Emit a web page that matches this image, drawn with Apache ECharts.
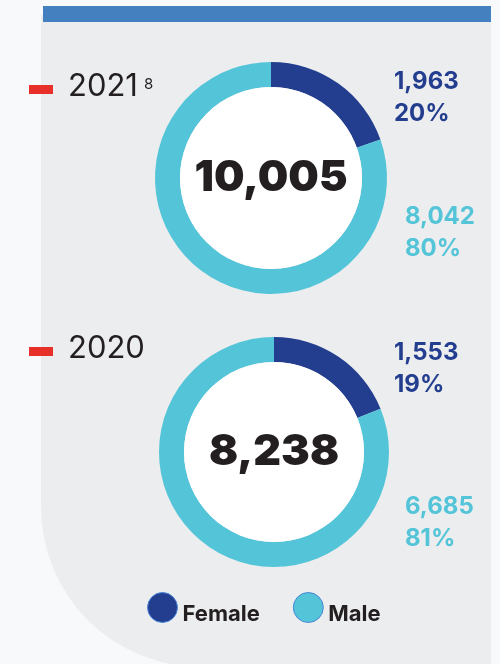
<!DOCTYPE html>
<html>
<head>
<meta charset="utf-8">
<script src="https://cdn.jsdelivr.net/npm/echarts@6/dist/echarts.min.js"></script>
<style>
  html, body { margin: 0; padding: 0; background: #f8f9fb; }
  #chart { width: 500px; height: 664px; }
</style>
</head>
<body>
<div id="chart"></div>
<script>
// data
const years = ['2021', '2020'];
const yearNotes = ['8', ''];
const female = [1963, 1553];
const male = [8042, 6685];
const femalePct = [20, 19];
const malePct = [80, 81];
const totals = [10005, 8238];

const COLORS = {
  female: '#243e8f',
  male: '#54c5d8',
  dash: '#e8302a',
  bar: '#4480c0',
  panel: '#ecedef',
  text: '#231f20'
};
const FONT = 'Inter, "Noto Sans", sans-serif';

// layout for each donut block
const blocks = [
  { cx: 271, cy: 178, r: 116, yearY: 87, fLabelY: 82, mLabelY: 217 },
  { cx: 274, cy: 452, r: 115, yearY: 349, fLabelY: 353, mLabelY: 507 }
];

const fmt = v => v.toLocaleString('en-US');

const chart = echarts.init(document.getElementById('chart'));

const series = [];
const graphic = [
  {
    type: 'rect',
    shape: { x: 41, y: 15, width: 450, height: 652, r: [0, 0, 0, 160] },
    style: { fill: COLORS.panel },
    silent: true
  },
  {
    type: 'rect',
    shape: { x: 43, y: 6, width: 448, height: 16 },
    style: { fill: COLORS.bar },
    silent: true
  }
];

blocks.forEach((b, i) => {
  series.push({
    type: 'pie',
    center: [b.cx, b.cy],
    radius: [b.r - 25, b.r],
    startAngle: 90,
    clockwise: true,
    silent: true,
    label: { show: false },
    labelLine: { show: false },
    itemStyle: { borderWidth: 0 },
    data: [
      { name: 'Female', value: female[i], itemStyle: { color: COLORS.female } },
      { name: 'Male', value: male[i], itemStyle: { color: COLORS.male } }
    ]
  });
  series.push({
    type: 'pie',
    center: [b.cx, b.cy],
    radius: [0, b.r - 25],
    silent: true,
    labelLine: { show: false },
    label: {
      show: true,
      position: 'center',
      formatter: p => fmt(p.value),
      color: COLORS.text,
      fontFamily: FONT,
      fontWeight: 900,
      fontSize: 43
    },
    data: [{ name: 'Total', value: totals[i], itemStyle: { color: '#ffffff' } }]
  });

  graphic.push(
    {
      type: 'rect',
      shape: { x: 29, y: b.yearY - 2, width: 24, height: 9 },
      style: { fill: COLORS.dash },
      silent: true
    },
    {
      type: 'text',
      x: 68, y: b.yearY,
      style: {
        text: years[i], fill: COLORS.text, font: '400 31px ' + FONT,
        textAlign: 'left', textVerticalAlign: 'middle'
      },
      silent: true
    },
    {
      type: 'text',
      x: 144, y: b.yearY - 10,
      style: {
        text: yearNotes[i], fill: COLORS.text, font: '400 15px ' + FONT,
        textAlign: 'left', textVerticalAlign: 'top'
      },
      silent: true
    },
    {
      type: 'text',
      x: 394, y: b.fLabelY - 16,
      style: {
        text: fmt(female[i]) + '\n' + femalePct[i] + '%', fill: COLORS.female,
        font: '700 24px ' + FONT, lineHeight: 32,
        textAlign: 'left', textVerticalAlign: 'top'
      },
      silent: true
    },
    {
      type: 'text',
      x: 405, y: b.mLabelY - 16,
      style: {
        text: fmt(male[i]) + '\n' + malePct[i] + '%', fill: COLORS.male,
        font: '700 24px ' + FONT, lineHeight: 32,
        textAlign: 'left', textVerticalAlign: 'top'
      },
      silent: true
    }
  );
});

chart.setOption({
  animation: false,
  backgroundColor: '#f8f9fb',
  graphic,
  legend: {
    data: ['Female', 'Male'],
    left: 147,
    top: 592,
    padding: 0,
    icon: 'circle',
    itemWidth: 30,
    itemHeight: 30,
    itemGap: 33,
    selectedMode: false,
    itemStyle: { borderColor: '#4a86d8', borderWidth: 1 },
    formatter: name => '{t|' + name + '}',
    textStyle: {
      rich: {
        t: {
          color: COLORS.text,
          fontFamily: FONT,
          fontWeight: 700,
          fontSize: 22,
          padding: [14, 0, 0, 0]
        }
      }
    }
  },
  series
});
</script>
</body>
</html>
